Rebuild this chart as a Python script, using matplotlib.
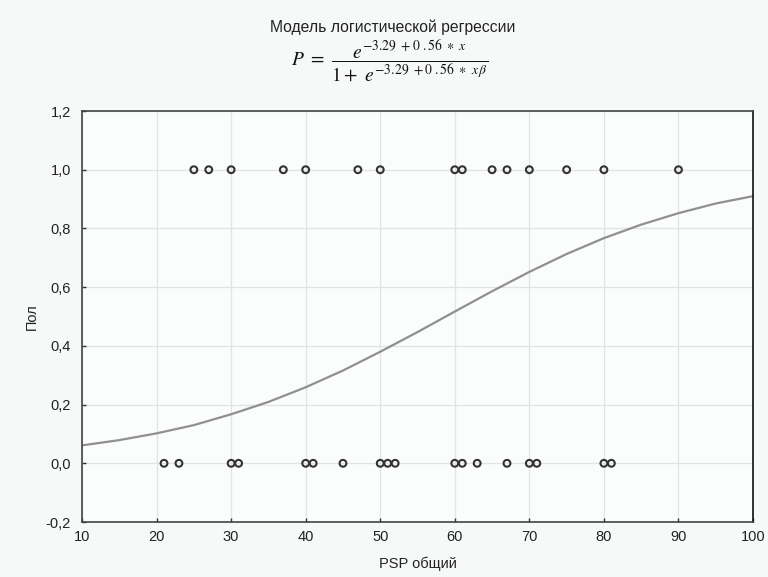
import matplotlib
matplotlib.use("Agg")
import matplotlib.pyplot as plt
from matplotlib.ticker import FuncFormatter

# Data
x_sex1 = [25, 27, 30, 37, 40, 47, 50, 60, 61, 65, 67, 70, 75, 80, 90]
x_sex0 = [21, 23, 30, 31, 40, 41, 45, 50, 51, 52, 60, 61, 63, 67, 70, 71, 80, 81]
curve_x = [10, 15, 20, 25, 30, 35, 40, 45, 50, 55, 60, 65, 70, 75, 80, 85, 90, 95, 100]
curve_p = [0.061, 0.079, 0.102, 0.130, 0.167, 0.209, 0.259, 0.316, 0.380, 0.447,
           0.517, 0.586, 0.652, 0.713, 0.767, 0.813, 0.852, 0.885, 0.910]
x_ticks = [10, 20, 30, 40, 50, 60, 70, 80, 90, 100]
y_ticks = [-0.2, 0.0, 0.2, 0.4, 0.6, 0.8, 1.0, 1.2]

plt.rcParams['font.family'] = ['Liberation Sans', 'DejaVu Sans']
plt.rcParams['mathtext.fontset'] = 'stix'

fig = plt.figure(figsize=(7.68, 5.77), dpi=100, facecolor='#f7f9f9')
ax = fig.add_axes([0.1068, 0.0953, 0.8737, 0.7123])
ax.set_facecolor('#fbfcfc')

ax.plot(curve_x, curve_p, color='#909090', lw=1.6, zorder=2)
ax.scatter(x_sex1, [1.0] * len(x_sex1), s=24, facecolors='none',
           edgecolors='#333333', linewidths=1.5, zorder=3)
ax.scatter(x_sex0, [0.0] * len(x_sex0), s=24, facecolors='none',
           edgecolors='#333333', linewidths=1.5, zorder=3)

ax.set_xlim(10, 100)
ax.set_ylim(-0.2, 1.2)
ax.set_xticks(x_ticks)
ax.set_yticks(y_ticks)
ax.yaxis.set_major_formatter(FuncFormatter(lambda v, p: f"{v:.1f}".replace('.', ',').replace('-0,0', '0,0')))
ax.grid(True, color='#e2e4e4', lw=0.9)
ax.set_axisbelow(True)
ax.tick_params(direction='in', length=3, width=1, colors='#333333',
               labelsize=10.5, labelcolor='#222222')
ax.tick_params(axis='x', pad=6)
ax.tick_params(axis='y', pad=8)
for s in ax.spines.values():
    s.set_color('#444444')
    s.set_linewidth(1.2)
ax.spines['right'].set_color('#111111')

ax.set_xlabel('PSP общий', fontsize=10.5, color='#222222', labelpad=9)
ax.set_ylabel('Пол', fontsize=10.5, color='#222222', labelpad=5)

fig.text(0.511, 0.953, 'Модель логистической регрессии', ha='center', va='center',
         fontsize=11.3, color='#222222')
fig.text(0.508, 0.894,
         r'$P\ =\ \dfrac{e^{-3.29\ +0\ .56\ \ast\ x}}{1+\ e^{-3.29\ +0\ .56\ \ast\ x\,\beta}}$',
         ha='center', va='center', fontsize=14, color='#111111')

fig.savefig('out.png', dpi=100, facecolor=fig.get_facecolor())
